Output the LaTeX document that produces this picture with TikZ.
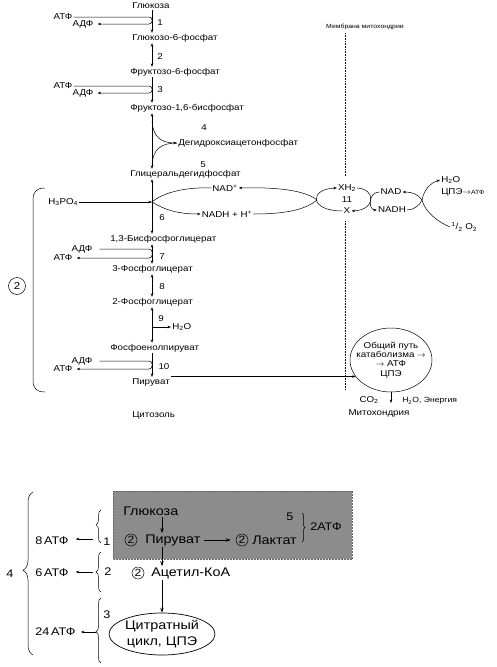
\documentclass[tikz,border=0pt]{standalone}
\usepackage{fontspec}
\setmainfont{Liberation Sans}[FakeStretch=1.15]
\usetikzlibrary{arrows.meta,shapes.geometric,decorations.pathreplacing}

\definecolor{boxgray}{RGB}{140,140,140}
\tikzset{
  met/.style={font=\fontsize{8.5}{9}\selectfont, inner sep=1pt},
  sml/.style={font=\fontsize{6}{7}\selectfont, inner sep=1pt},
  big/.style={font=\fontsize{12.5}{15}\selectfont, inner sep=1pt},
  atpl/.style={font=\fontsize{11}{12}\selectfont, inner sep=1pt},
  numc/.style={draw, circle, inner sep=0pt, minimum size=12pt, font=\fontsize{10.5}{11}\selectfont},
  brc/.style={decorate, decoration={brace, amplitude=#1}},
  memb/.style={dash pattern=on 0.7pt off 0.9pt, line width=0.7pt},
  barr/.style={-{Stealth[length=5pt,width=3.5pt]}, line width=0.7pt},
}

\begin{document}
\begin{tikzpicture}[x=1pt,y=-1pt,line width=0.5pt,>={Stealth[length=3.5pt,width=2.6pt]}]
  \useasboundingbox (0,0) rectangle (497,667);
  % glycolysis, metabolites along the axis
  \coordinate (ax) at (152,0);
  \node[met,anchor=west] (glc) at (131,6) {Глюкоза};
  \node[met,anchor=west] (g6p) at (131,38) {Глюкозо-6-фосфат};
  \node[met,anchor=west] (f6p) at (129,72) {Фруктозо-6-фосфат};
  \node[met,anchor=west] (fbp) at (129,108) {Фруктозо-1,6-бисфосфат};
  \node[met,anchor=west] (dhap) at (177,143) {Дегидроксиацетонфосфат};
  \node[met,anchor=west] (gap) at (129,174) {Глицеральдегидфосфат};
  \node[met,anchor=west] (bpg) at (109,239) {1,3-Бисфосфоглицерат};
  \node[met,anchor=west] (pg3) at (111,269) {3-Фосфоглицерат};
  \node[met,anchor=west] (pg2) at (111,302) {2-Фосфоглицерат};
  \node[met,anchor=west] (pep) at (109,348) {Фосфоенолпируват};
  \node[met,anchor=west] (pyr) at (131,382) {Пируват};
  \node[met,anchor=west] (cyt) at (131,415) {Цитозоль};
  \draw[->] (glc.south -| ax) -- (g6p.north -| ax);
  \draw[<->] (g6p.south -| ax) -- (f6p.north -| ax);
  \draw[->] (f6p.south -| ax) -- (fbp.north -| ax);
  \draw[<->] (fbp.south -| ax) -- (gap.north -| ax);
  \draw[<->] (gap.south -| ax) -- (bpg.north -| ax);
  \draw[<->] (bpg.south -| ax) -- (pg3.north -| ax);
  \draw[<->] (pg3.south -| ax) -- (pg2.north -| ax);
  \draw[<->] (pg2.south -| ax) -- (pep.north -| ax);
  \draw[->] (pep.south -| ax) -- (pyr.north -| ax);
  % step numbers
  \node[met] (s1) at (160,23) {1};
  \node[met] (s2) at (160,57) {2};
  \node[met] (s3) at (160,90) {3};
  \node[met] (s4) at (204,128) {4};
  \node[met] (s5) at (203,165) {5};
  \node[met] (s6) at (162,218) {6};
  \node[met] (s7) at (162,257) {7};
  \node[met] (s8) at (162,287) {8};
  \node[met] (s9) at (161,319) {9};
  \node[met] (s10) at (164,367) {10};
  % ATP / ADP hooks
  \node[met] (atp1) at (63,17) {АТФ};
  \node[met] (adp1) at (83,24) {АДФ};
  \draw[->,rounded corners=3pt,shorten >=3pt] (atp1.east) -- (atp1.east -| ax) -- (adp1.east -| ax) -- (adp1.east);
  \node[met] (atp3) at (63,86) {АТФ};
  \node[met] (adp3) at (83,93) {АДФ};
  \draw[->,rounded corners=3pt,shorten >=3pt] (atp3.east) -- (atp3.east -| ax) -- (adp3.east -| ax) -- (adp3.east);
  \node[met] (adp7) at (82,249) {АДФ};
  \node[met] (atp7) at (63,258) {АТФ};
  \draw[->,rounded corners=3pt,shorten <=6pt,shorten >=3pt] (adp7.east) -- (adp7.east -| ax) -- (atp7.east -| ax) -- (atp7.east);
  \node[met] (adp10) at (82,361) {АДФ};
  \node[met] (atp10) at (63,369) {АТФ};
  \draw[->,rounded corners=3pt,shorten <=6pt,shorten >=3pt] (adp10.east) -- (adp10.east -| ax) -- (atp10.east -| ax) -- (atp10.east);
  % dihydroxyacetone phosphate branch
  \coordinate (d4) at (152,121);
  \coordinate (d5) at (152,165);
  \draw[->] (d4) .. controls (153,136) and (160,143) .. (dhap.west);
  \draw (d5) .. controls (153,150) and (160,143) .. (dhap.west);
  % step 9
  \coordinate (a9) at (152,327);
  \node[met,anchor=west] (h2o9) at (171,327) {H\textsubscript{2}O};
  \draw[->] (a9) -- (h2o9.west);
  % step 6 loop
  \node[met,anchor=west] (hpo) at (47,202) {H\textsubscript{3}PO\textsubscript{4}};
  \coordinate (a6) at (152,202);
  \draw[->] (hpo.east) -- (a6);
  \node[met] (nadp) at (225,188) {NAD\textsuperscript{+}};
  \node[met] (nadhp) at (227,214) {NADH + H\textsuperscript{+}};
  \draw (a6) .. controls (165,191) and (190,187) .. (nadp.west);
  \draw[->] (a6) .. controls (165,210) and (178,214) .. (nadhp.west);
  \coordinate (j1) at (317,200);
  \draw[->] (j1) .. controls (305,190) and (275,187) .. (nadp.east);
  \draw (nadhp.east) .. controls (285,214) and (305,210) .. (j1);
  % shuttle through the membrane
  \node[met] (xh) at (347,188) {XH\textsubscript{2}};
  \node[met] (n11) at (347,200) {11};
  \node[met] (xx) at (347,211) {X};
  \draw[->] (xx.west) .. controls (309,211) and (309,189) .. (xh.west);
  \node[met] (nad) at (391,192) {NAD};
  \node[met] (nadh) at (392,210) {NADH};
  \draw[->] (xh.east) .. controls (376,189) and (376,210) .. (xx.east);
  \draw[->] (nad.west) .. controls (368,192) and (368,210) .. (nadh.west);
  \coordinate (j3) at (422,200);
  \draw[->] (j3) .. controls (418,194) and (412,192) .. (nad.east);
  \draw (nadh.east) .. controls (414,210) and (420,205) .. (j3);
  \node[met,anchor=west] (h2o) at (440,180) {H\textsubscript{2}O};
  \node[met,anchor=west] (cpe) at (440,192) {ЦПЭ$\rightarrow${\fontsize{6}{6}\selectfont АТФ}};
  \node[met,anchor=west] (o2) at (450,227) {\textsuperscript{1}/\textsubscript{2} O\textsubscript{2}};
  \draw[->] (j3) .. controls (424,190) and (430,183) .. (h2o.west);
  \draw (j3) .. controls (425,212) and (438,222) .. (o2.west);
  % membrane
  \node[sml] (mem) at (365,27) {Мембрана митохондрии};
  \coordinate (m1) at (345,33);
  \coordinate (m2) at (345,176);
  \coordinate (m3) at (345,221);
  \coordinate (m4) at (345,390);
  \draw[memb] (m1) -- (m2);
  \draw[memb] (m3) -- (m4);
  % mitochondrion
  \node[draw,ellipse,minimum width=82pt,minimum height=64pt] (cat) at (391,360) {};
  \node[align=center,inner sep=0pt,font=\fontsize{8.5}{9.3}\selectfont] (catt) at (cat) {Общий путь\\катаболизма $\rightarrow$\\$\rightarrow$ АТФ\\ЦПЭ};
  \draw[->] (pyr.east |- cat.205) -- (cat.205);
  \coordinate (dn) at (391,403);
  \draw[->] (cat.south) -- (dn);
  \node[met] (co2) at (369,400) {CO\textsubscript{2}};
  \node[anchor=west,inner sep=1pt,font=\fontsize{7.5}{8}\selectfont] (en) at (401,401) {H\textsubscript{2}O, Энергия};
  \node[met] (mito) at (379,413) {Митохондрия};
  % cytosol bracket
  \draw (45,188) .. controls (36,188) and (33,192) .. (33,200) -- (33,380) .. controls (33,388) and (36,392) .. (45,392);
  \node[draw,circle,inner sep=1pt,minimum size=17pt,font=\fontsize{10}{10}\selectfont] (two) at (17,286) {2};

  % ATP balance
  \fill[boxgray] (113,491) rectangle (352,559);
  \draw[densely dotted,black!60] (113,491) rectangle (352,559);
  \coordinate (bx) at (162,0);
  \node[big,anchor=west] (bglc) at (122,511) {Глюкоза};
  \node[numc] (c1) at (131,540) {2};
  \node[big,anchor=west] (bpyr) at (144,540) {Пируват};
  \node[numc] (c2) at (242,540) {2};
  \node[big,anchor=west] (blac) at (251,540) {Лактат};
  \node[atpl] (b5) at (290,517) {5};
  \draw[brc=3pt] (302,513) -- (302,542);
  \node[atpl,anchor=west] (b2atp) at (309,527) {2АТФ};
  \node[numc] (c3) at (138,573) {2};
  \node[big,anchor=west] (bacc) at (150,573) {Ацетил-КоА};
  \node[draw,ellipse,minimum width=106pt,minimum height=42pt,line width=0.7pt] (cyc) at (162,634) {};
  \node[align=center,inner sep=0pt,font=\fontsize{12.5}{16}\selectfont] (cyct) at (cyc) {Цитратный\\цикл, ЦПЭ};
  \draw[barr] (bglc.south -| bx) -- (bpyr.north -| bx);
  \draw[barr,shorten <=2pt,shorten >=5pt] (bpyr.east) -- (c2.west);
  \draw[barr] (bpyr.south -| bx) -- (bacc.north -| bx);
  \draw[barr] (bacc.south -| bx) -- (cyc.north);
  % left braces
  \node[atpl,anchor=west] (at8) at (34,541) {8\,АТФ};
  \node[atpl,anchor=west] (at6) at (34,573) {6\,АТФ};
  \node[atpl,anchor=west] (at24) at (34,632) {24\,АТФ};
  \coordinate (t1) at (93,539);
  \coordinate (t2) at (93,572);
  \coordinate (t3) at (96,632);
  \draw[->,shorten >=6pt] (t1) -- (t1 -| at8.east);
  \draw[->,shorten >=6pt] (t2) -- (t2 -| at6.east);
  \draw[->,shorten >=4pt] (t3) -- (t3 -| at24.east);
  \draw[brc=5pt,decoration={aspect=0.55}] (101,543) -- (101,510);
  \draw[brc=5pt] (101,592) -- (101,552);
  \draw[brc=5pt,decoration={aspect=0.48}] (101,663) -- (101,598);
  \draw[brc=10pt,decoration={aspect=0.52}] (33,655) -- (33,492);
  \node[atpl] (l1) at (107,542) {1};
  \node[atpl] (l2) at (108,572) {2};
  \node[atpl] (l3) at (107,615) {3};
  \node[atpl] (l4) at (10,574) {4};
\end{tikzpicture}
\end{document}
